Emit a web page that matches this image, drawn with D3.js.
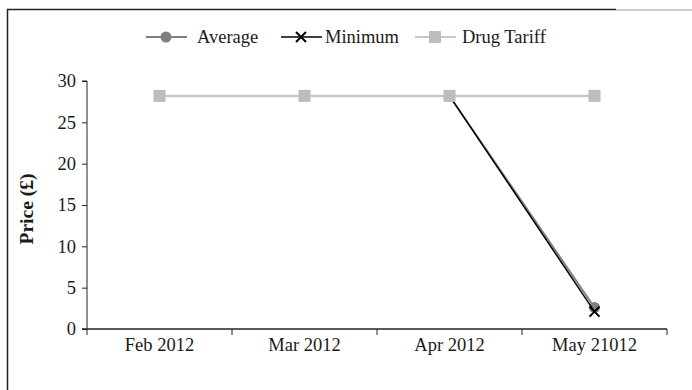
<!DOCTYPE html>
<html>
<head>
<meta charset="utf-8">
<script src="https://cdn.jsdelivr.net/npm/d3@7"></script>
<style>
  html, body { margin: 0; padding: 0; background: #fff; }
  svg { display: block; }
  text { font-family: "Liberation Serif", "DejaVu Serif", serif; fill: #1a1a1a; }
</style>
</head>
<body>
<svg id="chart" width="692" height="390"></svg>
<script>
// Monthly prices (£)
const months = ["Feb 2012", "Mar 2012", "Apr 2012", "May 21012"];
const averagePrice = [28.2, 28.2, 28.2, 2.6];
const minimumPrice = [28.2, 28.2, 28.2, 2.1];
const drugTariff = [28.2, 28.2, 28.2, 28.2];
const yTicks = [0, 5, 10, 15, 20, 25, 30];
const seriesNames = ["Average", "Minimum", "Drug Tariff"];

const svg = d3.select("#chart");
const W = 692, H = 390;
const margin = { left: 87, right: 25, top: 81, bottom: 61 };
const FS = 18.5;

// Outer frame: left and top edges
svg.append("line").attr("x1", 7.5).attr("x2", 7.5).attr("y1", 9).attr("y2", H)
  .attr("stroke", "#222").attr("stroke-width", 1.5);
svg.append("line").attr("x1", 7).attr("x2", 616).attr("y1", 9.5).attr("y2", 9.5)
  .attr("stroke", "#222").attr("stroke-width", 1.5);
svg.append("line").attr("x1", 616).attr("x2", W).attr("y1", 10).attr("y2", 10)
  .attr("stroke", "#bbb").attr("stroke-width", 1.5);

const x = d3.scaleBand().domain(months)
  .range([margin.left, W - margin.right]);
const y = d3.scaleLinear().domain([0, 30])
  .range([H - margin.bottom, margin.top]);

const cx = d => x(d) + x.bandwidth() / 2;

// Y axis
const yAxis = svg.append("g")
  .attr("transform", `translate(${margin.left},0)`)
  .call(d3.axisLeft(y).tickValues(yTicks).tickSize(5).tickPadding(6).tickFormat(d3.format("d")));
yAxis.selectAll("path, line").attr("stroke", "#222").attr("stroke-width", 1);
yAxis.select(".domain").attr("d", `M-5,${y(30)}H0V${y(0)}`);
yAxis.selectAll("text").attr("font-size", FS).attr("font-family", "Liberation Serif").attr("fill", "#1a1a1a");

// X axis with ticks at category boundaries
const xAxis = svg.append("g")
  .attr("transform", `translate(0,${y(0)})`)
  .call(d3.axisBottom(x).tickSize(0).tickPadding(9));
xAxis.select(".domain").attr("stroke", "#222").attr("stroke-width", 1.5)
  .attr("d", `M${margin.left - 5},0H${W - margin.right}`);
xAxis.selectAll("text").attr("font-size", FS).attr("font-family", "Liberation Serif").attr("fill", "#1a1a1a");
const bounds = months.map(m => x(m)).concat([x(months[months.length - 1]) + x.bandwidth()]);
xAxis.selectAll(".bound").data(bounds).enter().append("line")
  .attr("class", "bound")
  .attr("x1", d => d).attr("x2", d => d).attr("y1", 0).attr("y2", 6)
  .attr("stroke", "#222").attr("stroke-width", 1);

// Y axis title
svg.append("text")
  .attr("transform", `translate(33,${(y(0) + y(30)) / 2 + 4}) rotate(-90)`)
  .attr("text-anchor", "middle")
  .attr("font-size", 19.5).attr("font-weight", "bold")
  .text("Price (£)");

const line = d3.line().x((d, i) => cx(months[i])).y(d => y(d));

// Average series
svg.append("path").datum(averagePrice).attr("d", line)
  .attr("fill", "none").attr("stroke", "#808080").attr("stroke-width", 2);
svg.selectAll(".avg").data(averagePrice).enter().append("circle")
  .attr("class", "avg")
  .attr("cx", (d, i) => cx(months[i])).attr("cy", d => y(d)).attr("r", 5.5)
  .attr("fill", "#808080");

// Minimum series
svg.append("path").datum(minimumPrice).attr("d", line)
  .attr("fill", "none").attr("stroke", "#000").attr("stroke-width", 1.5);
const cross = (g, px, py, s) => {
  g.append("path")
    .attr("d", `M${px - s},${py - s}L${px + s},${py + s}M${px - s},${py + s}L${px + s},${py - s}`)
    .attr("stroke", "#000").attr("stroke-width", 2).attr("fill", "none");
};
minimumPrice.forEach((d, i) => cross(svg, cx(months[i]), y(d), 5));

// Drug Tariff series (drawn on top)
svg.append("path").datum(drugTariff).attr("d", line)
  .attr("fill", "none").attr("stroke", "#c8c8c8").attr("stroke-width", 2.5);
svg.selectAll(".tariff").data(drugTariff).enter().append("rect")
  .attr("class", "tariff")
  .attr("x", (d, i) => cx(months[i]) - 6).attr("y", d => y(d) - 6)
  .attr("width", 12).attr("height", 12)
  .attr("fill", "#bdbdbd");

// Legend
const legendY = 37;
const legendItems = [
  { name: seriesNames[0], x0: 146, tx: 197 },
  { name: seriesNames[1], x0: 281, tx: 325 },
  { name: seriesNames[2], x0: 415, tx: 462 }
];
const lg = svg.append("g");
legendItems.forEach((it, i) => {
  const mid = it.x0 + 20;
  if (i === 0) {
    lg.append("line").attr("x1", it.x0).attr("x2", it.x0 + 41).attr("y1", legendY).attr("y2", legendY)
      .attr("stroke", "#808080").attr("stroke-width", 2);
    lg.append("circle").attr("cx", mid).attr("cy", legendY).attr("r", 5.5).attr("fill", "#808080");
  } else if (i === 1) {
    lg.append("line").attr("x1", it.x0).attr("x2", it.x0 + 41).attr("y1", legendY).attr("y2", legendY)
      .attr("stroke", "#000").attr("stroke-width", 1.5);
    cross(lg, mid, legendY, 5);
  } else {
    lg.append("line").attr("x1", it.x0).attr("x2", it.x0 + 41).attr("y1", legendY).attr("y2", legendY)
      .attr("stroke", "#c8c8c8").attr("stroke-width", 2);
    lg.append("rect").attr("x", mid - 6).attr("y", legendY - 6).attr("width", 12).attr("height", 12)
      .attr("fill", "#bdbdbd");
  }
  lg.append("text").attr("x", it.tx).attr("y", legendY).attr("dy", "0.35em")
    .attr("font-size", FS).text(it.name);
});
</script>
</body>
</html>
